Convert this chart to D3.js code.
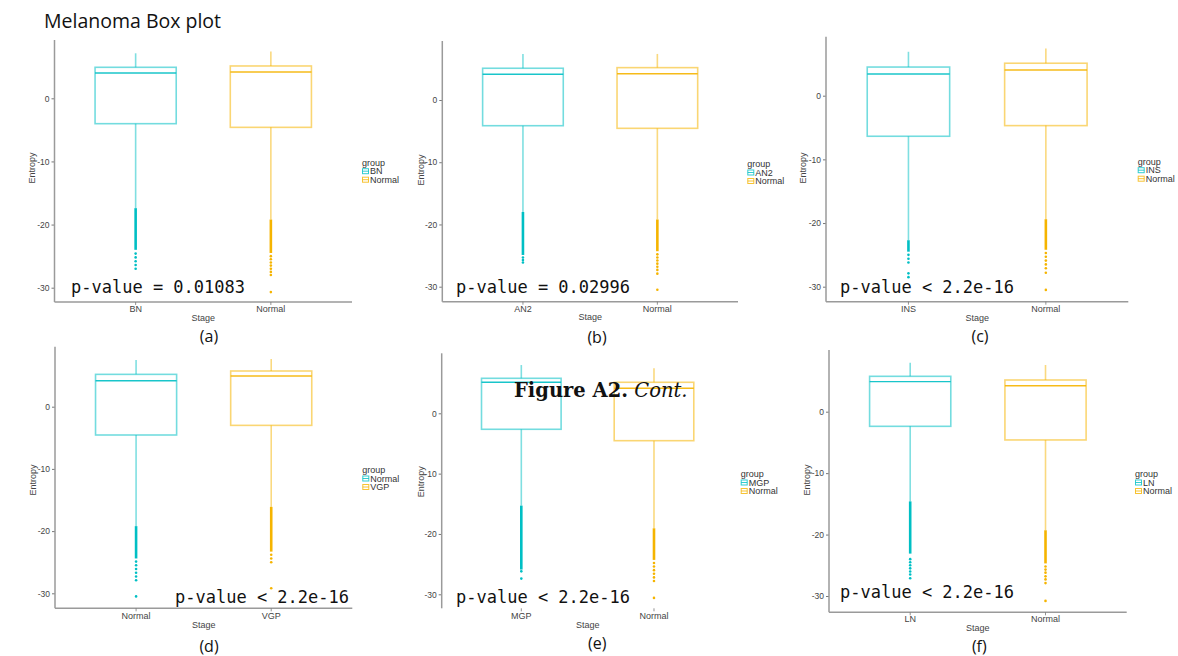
<!DOCTYPE html>
<html>
<head>
<meta charset="utf-8">
<script src="https://cdn.jsdelivr.net/npm/d3@7"></script>
<style>
  html, body { margin: 0; padding: 0; background: #fff; }
  svg { display: block; }
</style>
</head>
<body>
<svg id="chart" width="1178" height="656"></svg>
<script>
// ---------------- DATA ----------------
const titleText = "Melanoma Box plot";
const figureCaption = ["Figure A2.", " Cont."];
const panelLetters = ["(a)", "(b)", "(c)", "(d)", "(e)", "(f)"];
const stageCategories = [
  ["BN", "Normal"],
  ["AN2", "Normal"],
  ["INS", "Normal"],
  ["Normal", "VGP"],
  ["MGP", "Normal"],
  ["LN", "Normal"]
];
const pValueLabels = [
  "p-value = 0.01083",
  "p-value = 0.02996",
  "p-value < 2.2e-16",
  "p-value < 2.2e-16",
  "p-value < 2.2e-16",
  "p-value < 2.2e-16"
];
const yTickValues = [0, -10, -20, -30];
const axisTitles = { x: "Stage", y: "Entropy", legend: "group" };

// [lower whisker, Q1, median, Q3, upper whisker] for each box (first, second category)
const boxStats = [
  [[-17.4, -4.02, 4.00, 4.91, 7.13], [-19.2, -4.60, 4.17, 5.12, 7.40]],
  [[-18.0, -4.13, 4.13, 5.10, 7.40], [-19.2, -4.55, 4.23, 5.20, 7.40]],
  [[-22.7, -6.37, 3.40, 4.50, 6.90], [-19.4, -4.70, 4.03, 5.10, 7.40]],
  [[-19.2, -4.55, 4.18, 5.20, 7.50], [-16.1, -3.00, 4.93, 5.74, 7.67]],
  [[-15.3, -2.65, 5.14, 5.80, 8.00], [-19.06, -4.54, 4.15, 5.14, 7.46]],
  [[-14.6, -2.38, 4.89, 5.76, 7.98], [-19.3, -4.60, 4.23, 5.16, 7.60]]
];
// densely packed outliers: [from, to]
const outlierRuns = [
  [[-17.4, -24.0], [-19.2, -24.5]],
  [[-18.0, -24.9], [-19.2, -24.3]],
  [[-22.7, -24.5], [-19.4, -24.2]],
  [[-19.2, -24.4], [-16.1, -23.3]],
  [[-15.3, -25.9], [-19.06, -24.3]],
  [[-14.6, -23.1], [-19.3, -24.7]]
];
// individually visible outliers
const outlierPoints = [
  [[-24.6, -25.2, -25.8, -26.4, -27.0], [-25.0, -25.5, -26.0, -26.5, -27.0, -27.5, -28.0, -30.7]],
  [[-25.3, -25.7, -26.1], [-24.8, -25.3, -25.8, -26.3, -26.8, -27.3, -27.9, -30.5]],
  [[-25.0, -25.6, -26.2, -27.9, -28.5], [-24.7, -25.3, -25.9, -26.5, -27.1, -27.8, -30.5]],
  [[-24.9, -25.5, -26.1, -26.7, -27.3, -27.9, -30.5], [-23.8, -24.4, -25.0, -29.2]],
  [[-26.2, -27.4], [-24.8, -25.4, -26.0, -26.6, -27.2, -27.8, -30.6]],
  [[-24.0, -24.5, -25.0, -25.5, -26.0, -26.5, -27.1], [-25.2, -25.7, -26.2, -26.8, -27.3, -27.9, -30.8]]
];

// ---------------- LAYOUT / STYLE ----------------
const groupColors = ["#00BFC4", "#F5B400"];
const panelLayout = [
  { ax: 54.5, right: 352, top: 40, bottom: 302, y0: 98.3, y30: 287.7, xl: 309, st: 318, ey: 168, ex: 32, px: 71, py: 293, lx: 362, ly: 162.7, cx: 209, cy: 336, xAxis: true },
  { ax: 442.3, right: 738, top: 41, bottom: 301.7, y0: 100, y30: 286.7, xl: 309.3, st: 317.3, ey: 170, ex: 420.7, px: 456, py: 293, lx: 747.3, ly: 164, cx: 597, cy: 337, xAxis: true },
  { ax: 826, right: 1128.3, top: 36.7, bottom: 301.7, y0: 95.7, y30: 286.7, xl: 309.3, st: 318.3, ey: 168, ex: 803.3, px: 840, py: 293.3, lx: 1137.7, ly: 161.7, cx: 980, cy: 336, xAxis: true },
  { ax: 55, right: 352.3, top: 346.7, bottom: 608.3, y0: 406.7, y30: 593.3, xl: 615.7, st: 625, ey: 480, ex: 33.3, px: 175, py: 603.3, lx: 362.3, ly: 470, cx: 209, cy: 646.5, xAxis: true },
  { ax: 441.7, right: 733.6, top: 353.3, bottom: 608.3, y0: 413.3, y30: 594.3, xl: 616, st: 625.3, ey: 481.7, ex: 420.7, px: 456, py: 603.3, lx: 740.7, ly: 474, cx: 597.3, cy: 643.3, xAxis: false },
  { ax: 829, right: 1126.7, top: 350, bottom: 612.3, y0: 411.7, y30: 596, xl: 619.3, st: 628.3, ey: 480, ex: 806.7, px: 840, py: 598.3, lx: 1135, ly: 474, cx: 979.3, cy: 646.5, xAxis: true }
];

const svg = d3.select("#chart");
const sans = "'Liberation Sans', Arial, sans-serif";

// Title
svg.append("text")
  .attr("x", 44).attr("y", 28)
  .attr("font-family", "'Open Sans', sans-serif")
  .attr("font-size", 19.5)
  .attr("fill", "#111")
  .text(titleText);

panelLayout.forEach((L, i) => {
  const g = svg.append("g");
  const cats = stageCategories[i];
  const x = d3.scalePoint().domain(cats).range([L.ax, L.right]).padding(0.6);
  const y = d3.scaleLinear().domain([0, -30]).range([L.y0, L.y30]);
  const step = x.step();
  const bw = step * 0.6;

  // Boxes
  cats.forEach((c, j) => {
    const [lo, q1, med, q3, hi] = boxStats[i][j];
    const cxp = x(c);
    const col = groupColors[j];
    // whiskers
    g.append("line").attr("x1", cxp).attr("x2", cxp)
      .attr("y1", y(hi)).attr("y2", y(q3))
      .attr("stroke", col).attr("stroke-width", 1.6).attr("stroke-opacity", 0.5);
    g.append("line").attr("x1", cxp).attr("x2", cxp)
      .attr("y1", y(q1)).attr("y2", y(lo))
      .attr("stroke", col).attr("stroke-width", 1.6).attr("stroke-opacity", 0.5);
    // box
    g.append("rect")
      .attr("x", cxp - bw / 2).attr("width", bw)
      .attr("y", y(q3)).attr("height", y(q1) - y(q3))
      .attr("fill", "none").attr("stroke", col)
      .attr("stroke-width", 1.6).attr("stroke-opacity", 0.55);
    // median
    g.append("line")
      .attr("x1", cxp - bw / 2).attr("x2", cxp + bw / 2)
      .attr("y1", y(med)).attr("y2", y(med))
      .attr("stroke", col).attr("stroke-width", 1.4).attr("stroke-opacity", 0.9);
    // dense outliers
    const [r0, r1] = outlierRuns[i][j];
    g.append("line").attr("x1", cxp).attr("x2", cxp)
      .attr("y1", y(r0)).attr("y2", y(r1))
      .attr("stroke", col).attr("stroke-width", 2.6);
    // sparse outliers
    g.selectAll(null).data(outlierPoints[i][j]).enter().append("circle")
      .attr("cx", cxp).attr("cy", d => y(d)).attr("r", 1.3)
      .attr("fill", col);
  });

  // Y axis
  const yAxis = d3.axisLeft(y).tickValues(yTickValues).tickSize(3).tickPadding(2).tickFormat(d => String(d));
  const ya = g.append("g").attr("transform", `translate(${L.ax},0)`).call(yAxis);
  ya.select(".domain").remove();
  ya.selectAll(".tick line").attr("stroke", "#555").attr("stroke-width", 0.8);
  ya.selectAll(".tick text").attr("font-family", sans).attr("font-size", 8.5).attr("fill", "#444");
  g.append("line").attr("x1", L.ax).attr("x2", L.ax).attr("y1", L.top).attr("y2", L.bottom)
    .attr("stroke", "#9a9a9a").attr("stroke-width", 1.5);

  // X axis
  if (L.xAxis) {
    g.append("line").attr("x1", L.ax).attr("x2", L.right).attr("y1", L.bottom).attr("y2", L.bottom)
      .attr("stroke", "#9a9a9a").attr("stroke-width", 1.5);
  }
  cats.forEach(c => {
    g.append("line").attr("x1", x(c)).attr("x2", x(c)).attr("y1", L.bottom).attr("y2", L.bottom + 3)
      .attr("stroke", "#777").attr("stroke-width", 0.8);
    g.append("text").attr("x", x(c)).attr("y", L.xl).attr("dy", "0.35em")
      .attr("text-anchor", "middle").attr("font-family", sans).attr("font-size", 9)
      .attr("fill", "#444").text(c);
  });

  // Axis titles
  g.append("text").attr("x", (L.ax + L.right) / 2).attr("y", L.st).attr("dy", "0.35em")
    .attr("text-anchor", "middle").attr("font-family", sans).attr("font-size", 9)
    .attr("fill", "#444").text(axisTitles.x);
  g.append("text").attr("transform", `translate(${L.ex},${L.ey}) rotate(-90)`)
    .attr("dy", "0.35em").attr("text-anchor", "middle").attr("font-family", sans)
    .attr("font-size", 9).attr("fill", "#444").text(axisTitles.y);

  // p-value
  g.append("text").attr("x", L.px).attr("y", L.py)
    .attr("font-family", "'DejaVu Sans Mono', monospace").attr("font-size", 17)
    .attr("fill", "#111").text(pValueLabels[i]);

  // Legend
  g.append("text").attr("x", L.lx).attr("y", L.ly).attr("dy", "0.35em")
    .attr("font-family", sans).attr("font-size", 9).attr("fill", "#333")
    .text(axisTitles.legend);
  cats.forEach((c, j) => {
    const ky = L.ly + 8.5 * (j + 1);
    g.append("rect").attr("x", L.lx + 0.5).attr("y", ky - 2.5).attr("width", 6).attr("height", 5)
      .attr("fill", "none").attr("stroke", groupColors[j]).attr("stroke-width", 1).attr("stroke-opacity", 0.8);
    g.append("line").attr("x1", L.lx + 0.5).attr("x2", L.lx + 6.5).attr("y1", ky).attr("y2", ky)
      .attr("stroke", groupColors[j]).attr("stroke-width", 0.8);
    g.append("text").attr("x", L.lx + 8).attr("y", ky).attr("dy", "0.35em")
      .attr("font-family", sans).attr("font-size", 9).attr("fill", "#333").text(c);
  });

  // Caption letter
  g.append("text").attr("x", L.cx).attr("y", L.cy).attr("dy", "0.35em")
    .attr("text-anchor", "middle").attr("font-family", "'Open Sans', sans-serif")
    .attr("font-size", 16).attr("fill", "#111").text(panelLetters[i]);
});

// Figure caption
const fc = svg.append("text").attr("x", 514).attr("y", 397)
  .attr("font-family", "'DejaVu Serif', serif").attr("font-size", 19.5).attr("fill", "#111");
fc.append("tspan").attr("font-weight", "bold").text(figureCaption[0]);
fc.append("tspan").attr("font-style", "italic").text(figureCaption[1]);
</script>
</body>
</html>
